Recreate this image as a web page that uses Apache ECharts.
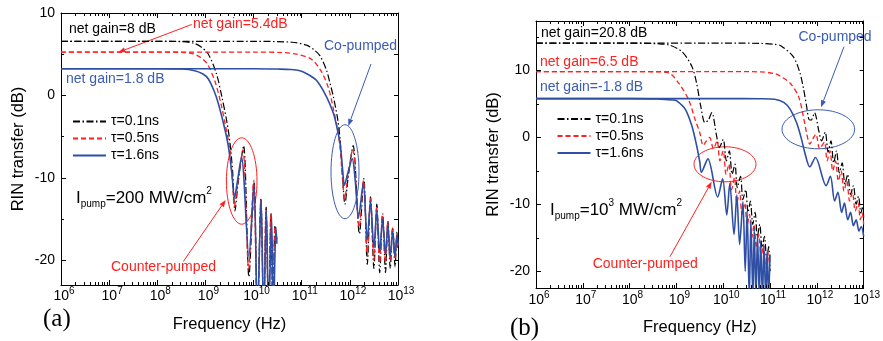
<!DOCTYPE html>
<html><head><meta charset="utf-8">
<script src="https://cdn.jsdelivr.net/npm/echarts@6/dist/echarts.min.js"></script>
<style>html,body{margin:0;padding:0;background:#fff}#c{width:883px;height:341px}</style>
</head><body><div id="c"></div>
<script>
// ---------- data ----------
const seriesNames = ['τ=0.1ns', 'τ=0.5ns', 'τ=1.6ns'];
const yTickLabels = [-20, -10, 0, 10];
const yMinorA = [-15, -5, 5];
const yMinorB = [-15, -5, 5, 15];
const yRightA = [-20, -15, -10, -5, 0, 5, 10];
const yRightB = [-20, -15, -10, -5, 0, 5, 10, 15];
const minorMultipliers = [2, 3, 4, 5, 6, 7, 8, 9];
const decadeExponents = [6, 7, 8, 9, 10, 11, 12];

// Panel (a), I_pump = 200 MW/cm^2 : [frequency Hz, RIN transfer dB]
const aCounterT01 = [[1e6,6.56],[1e8,6.56],[3.2e8,6.52],[5.6e8,6.35],[8.0e8,5.9],[1.15e9,5.0],[1.7e9,2.6],[2.2e9,-0.2],[2.75e9,-3.0],[3.2e9,-5.5],[3.7e9,-9.5],[4.1e9,-14],[4.8e9,-10.5],[6.2e9,-6.1],[8.0e9,-22],[1.02e10,-10.3],[1.2e10,-27],[1.42e10,-12.5],[1.62e10,-27],[1.82e10,-13.5],[2.05e10,-27],[2.29e10,-14.3],[2.52e10,-27],[2.79e10,-15.8],[3.05e10,-17.5]];
const aCounterT05 = [[1e6,5.26],[1e8,5.26],[3.2e8,5.22],[5.6e8,5.05],[8.0e8,4.6],[1.1e9,3.8],[1.6e9,1.6],[2.1e9,-1.0],[2.6e9,-3.6],[3.1e9,-6.0],[3.6e9,-10],[4.0e9,-13.5],[4.7e9,-10.5],[6.0e9,-6.6],[7.9e9,-21],[1.0e10,-10.5],[1.2e10,-27],[1.42e10,-12.7],[1.62e10,-27],[1.81e10,-13.8],[2.05e10,-27],[2.28e10,-14.5],[2.52e10,-27],[2.78e10,-16],[3.05e10,-17.5]];
const aCounterT16 = [[1e6,3.24],[1e8,3.24],[3.2e8,3.2],[6.0e8,3.0],[8.9e8,2.6],[1.15e9,2.0],[1.5e9,0.6],[1.86e9,-1.0],[2.57e9,-4.25],[3.0e9,-6.2],[3.55e9,-9.5],[4.0e9,-12.4],[4.6e9,-10.5],[5.6e9,-7.5],[8.0e9,-19.5],[1.02e10,-10.8],[1.2e10,-27],[1.43e10,-12.6],[1.62e10,-27],[1.85e10,-14],[2.05e10,-27],[2.37e10,-14.8],[2.58e10,-27],[2.92e10,-16],[3.05e10,-18]];
const aCoT01 = [[1e6,6.56],[1e10,6.56],[6.3e10,6.45],[1.26e11,6.1],[1.74e11,5.6],[2.4e11,4.8],[3.3e11,3.0],[3.9e11,1.4],[4.57e11,-0.2],[5.62e11,-3.0],[6.3e11,-5.5],[7.0e11,-9.5],[7.9e11,-13.2],[9.2e11,-10],[1.17e12,-6.1],[1.58e12,-16.8],[1.95e12,-10.1],[2.3e12,-20.5],[2.69e12,-12.3],[3.16e12,-21],[3.63e12,-13.2],[4.17e12,-21.5],[4.79e12,-14.3],[5.5e12,-21.5],[6.17e12,-15.2],[6.9e12,-21],[7.76e12,-16],[8.7e12,-20.8],[9.5e12,-16.6],[1e13,-18.5]];
const aCoT05 = [[1e6,5.26],[1e10,5.26],[4e10,5.2],[7.9e10,5.0],[1.58e11,4.4],[2.5e11,3.0],[3.55e11,1.0],[4.5e11,-1.5],[5.5e11,-4],[6.3e11,-6.5],[7.0e11,-10],[7.8e11,-12.5],[9.2e11,-9.5],[1.15e12,-6.5],[1.56e12,-16],[1.93e12,-10.3],[2.3e12,-19.5],[2.66e12,-12.5],[3.16e12,-20],[3.6e12,-13.5],[4.17e12,-20.3],[4.75e12,-14.5],[5.5e12,-20.3],[6.1e12,-15.3],[6.9e12,-20],[7.7e12,-16],[8.7e12,-19.8],[9.5e12,-16.8],[1e13,-18.3]];
const aCoT16 = [[1e6,3.24],[1e10,3.24],[3.16e10,3.2],[6e10,3.15],[9.2e10,3.0],[1.3e11,2.6],[2.04e11,1.8],[3.3e11,-0.2],[4.57e11,-2.2],[5.37e11,-3.85],[6.3e11,-5.9],[7.1e11,-9.1],[7.7e11,-10.9],[9.0e11,-9.5],[1.12e12,-7.7],[1.3e12,-10.5],[1.51e12,-14.8],[1.9e12,-10.7],[2.3e12,-17.5],[2.69e12,-12.8],[3.16e12,-18.5],[3.63e12,-14],[4.17e12,-19],[4.79e12,-15],[5.5e12,-19.3],[6.17e12,-15.8],[6.9e12,-19.5],[7.76e12,-16.5],[8.7e12,-19.5],[9.55e12,-17],[1e13,-18]];

// Panel (b), I_pump = 10^3 MW/cm^2
const bCounterT01 = [[1e6,14.1],[1e8,14.1],[4e8,14.0],[7.1e8,13.8],[1.32e9,12.8],[2.14e9,10.6],[2.7e9,8.1],[3.3e9,4.7],[4.07e9,2.2],[4.8e9,2.6],[5.7e9,3.7],[7.1e9,0.5],[8.3e9,-1.5],[1.0e10,-0.3],[1.17e10,-3.5],[1.35e10,-2.0],[1.55e10,-5.5],[1.78e10,-4.0],[2.0e10,-7.5],[2.34e10,-5.8],[2.63e10,-9.3],[3.02e10,-7.8],[3.39e10,-11.2],[3.8e10,-9.5],[4.27e10,-13],[4.79e10,-11.2],[5.37e10,-14.8],[6.03e10,-13],[6.76e10,-16.5],[7.59e10,-14.8],[8.51e10,-18.5],[9.33e10,-16.3],[1.0e11,-20]];
const bCounterT05 = [[1e6,9.84],[1e8,9.84],[4e8,9.8],[7.1e8,9.6],[1.12e9,8.1],[1.82e9,5.65],[2.5e9,2.7],[3.16e9,0.7],[3.72e9,-1.2],[4.3e9,-0.6],[5.13e9,0],[6.17e9,-1.7],[7.4e9,-0.5],[8.5e9,-3.5],[1.0e10,-2.0],[1.15e10,-5.5],[1.32e10,-4.0],[1.51e10,-7.8],[1.74e10,-6.0],[1.95e10,-9.8],[2.24e10,-8.0],[2.51e10,-11.5],[2.88e10,-9.8],[3.24e10,-13.2],[3.63e10,-11.5],[4.07e10,-15],[4.57e10,-13],[5.13e10,-16.5],[5.75e10,-14.5],[6.46e10,-18],[7.24e10,-16],[8.13e10,-19.5],[8.91e10,-17],[9.77e10,-19]];
const bCounterT16 = [[1e6,5.8],[1e8,5.8],[4e8,5.75],[8.3e8,5.6],[1.0e9,5.5],[1.55e9,4.2],[2.14e9,1.7],[2.7e9,-1.2],[3.16e9,-3.7],[3.4e9,-5.2],[4.7e9,-3.2],[7.6e9,-8.9],[9.7e9,-6.2],[1.19e10,-11.6],[1.38e10,-6.9],[1.7e10,-14.5],[1.95e10,-8.6],[2.24e10,-16],[2.63e10,-9.6],[2.95e10,-20],[3.24e10,-11],[3.6e10,-24],[3.9e10,-12.3],[4.3e10,-24],[4.6e10,-13.5],[5.0e10,-24],[5.4e10,-14.5],[5.9e10,-24],[6.3e10,-15.5],[6.9e10,-24],[7.4e10,-16.2],[8.1e10,-24],[8.7e10,-17],[9.3e10,-24],[1e11,-17.5]];
const bCoT01 = [[1e6,14.1],[1e10,14.1],[6.3e10,14.05],[1.3e11,13.9],[1.7e11,13.7],[3.16e11,12.05],[4.37e11,9.6],[5.25e11,7.1],[6.03e11,4.7],[6.76e11,2.7],[7.6e11,2.6],[8.9e11,3.7],[1.1e12,1.0],[1.26e12,-0.5],[1.51e12,0.8],[1.74e12,-2.2],[2.0e12,-0.5],[2.29e12,-3.8],[2.63e12,-2.0],[3.02e12,-5.3],[3.47e12,-3.8],[3.98e12,-7.0],[4.57e12,-5.5],[5.25e12,-8.5],[6.03e12,-7.2],[6.92e12,-10.0],[7.76e12,-8.8],[8.71e12,-11.3],[9.55e12,-10.3],[1e13,-12]];
const bCoT05 = [[1e6,9.84],[1e10,9.84],[6.3e10,9.8],[1.3e11,9.5],[1.7e11,9.1],[2.7e11,8.1],[4.07e11,6.1],[5.13e11,3.2],[6.03e11,0.7],[7.08e11,-1.0],[8.1e11,-0.3],[9.55e11,0.5],[1.15e12,-1.7],[1.45e12,-0.7],[1.66e12,-3.5],[1.91e12,-2.0],[2.19e12,-5.0],[2.51e12,-3.5],[2.88e12,-6.5],[3.31e12,-5.0],[3.8e12,-8.0],[4.37e12,-6.5],[5.01e12,-9.5],[5.75e12,-8.2],[6.61e12,-11.0],[7.59e12,-9.8],[8.51e12,-12.3],[9.33e12,-11.3],[1e13,-13]];
const bCoT16 = [[1e6,5.8],[1e10,5.8],[6.3e10,5.78],[1.26e11,5.7],[2.0e11,5.2],[2.7e11,4.2],[3.7e11,2.2],[4.7e11,-0.25],[5.5e11,-2.2],[7.08e11,-4.4],[9.33e11,-3.0],[1.58e12,-7.2],[1.95e12,-5.8],[2.4e12,-9.5],[2.82e12,-8.2],[3.39e12,-11.2],[3.89e12,-9.8],[4.57e12,-12.3],[5.25e12,-11.2],[6.03e12,-13.2],[6.92e12,-12.3],[7.94e12,-14],[8.91e12,-13.3],[1e13,-14.8]];

// ---------- styling ----------
const FONT = '"Liberation Sans", Arial, sans-serif';
const BLACK = '#000000', RED = '#ff2020', BLUE = '#2f4fa5', BLUE_T = '#3a5cb3';
const styles = [
  { color: BLACK, lineStyle: { color: BLACK, width: 1.2, type: [7, 2.5, 1.5, 2.5] } },
  { color: RED, lineStyle: { color: RED, width: 1.3, type: [5, 3] } },
  { color: BLUE, lineStyle: { color: BLUE, width: 1.6, type: 'solid' } }
];

function lineSeries(i, data, xi, yi) {
  return {
    type: 'line', name: seriesNames[i], data: data, xAxisIndex: xi, yAxisIndex: yi,
    symbol: 'none', showSymbol: false, smooth: 0.3, clip: true, silent: true,
    color: styles[i].color, lineStyle: styles[i].lineStyle, z: 3 + i
  };
}

const minorTickVals = [];
decadeExponents.forEach(e => minorMultipliers.forEach(m => minorTickVals.push(m * Math.pow(10, e))));

function minorTickSeries(xi, yi, yMin, yMax) {
  return {
    type: 'custom', xAxisIndex: xi, yAxisIndex: yi, silent: true, z: 10,
    data: minorTickVals.map(v => [v, yMin]),
    renderItem: function (params, api) {
      const x = api.value(0);
      const pb = api.coord([x, yMin]);
      const pt = api.coord([x, yMax]);
      const px = Math.round(pb[0]) + 0.5;
      return { type: 'group', children: [
        { type: 'line', shape: { x1: px, y1: pb[1], x2: px, y2: pb[1] - 3 }, style: { stroke: '#000', lineWidth: 1 } },
        { type: 'line', shape: { x1: px, y1: pt[1], x2: px, y2: pt[1] + 3 }, style: { stroke: '#000', lineWidth: 1 } }
      ]};
    }
  };
}

function xAxisCfg(grid, pos, withLabels, margin) {
  return {
    type: 'log', logBase: 10, min: 1e6, max: 1e13, gridIndex: grid, position: pos,
    splitLine: { show: false },
    axisLine: { show: true, onZero: false, lineStyle: { color: '#000', width: 1 } },
    axisTick: { show: true, inside: true, length: 5, lineStyle: { color: '#000' } },
    axisLabel: {
      show: withLabels, margin: margin, color: '#000', fontFamily: FONT, fontSize: 14, lineHeight: 20,
      padding: [0, 0, 0, 6],
      formatter: function (v) { return '10{s|' + Math.round(Math.log10(v)) + '}'; },
      rich: { s: { fontSize: 10, lineHeight: 10, verticalAlign: 'top', fontFamily: FONT, color: '#000' } }
    },
    name: withLabels ? 'Frequency (Hz)' : '', nameLocation: 'middle', nameGap: 31,
    nameTextStyle: { fontFamily: FONT, fontSize: 16.5, color: '#000' }
  };
}

function yAxisCfg(grid, pos, min, max, tickVals, tickLen, labels, line, name) {
  return {
    type: 'value', gridIndex: grid, position: pos, min: min, max: max,
    splitLine: { show: false },
    axisLine: { show: line, lineStyle: { color: '#000', width: 1 } },
    axisTick: { show: true, inside: true, length: tickLen, customValues: tickVals, lineStyle: { color: '#000' } },
    axisLabel: { show: labels, customValues: labels ? tickVals : undefined, margin: 6, color: '#000', fontFamily: FONT, fontSize: 14 },
    name: name || '', nameLocation: 'middle', nameGap: 34, nameRotate: 90,
    nameTextStyle: { fontFamily: FONT, fontSize: 16.5, color: '#000' }
  };
}

function arrow(x1, y1, x2, y2, color) {
  const ang = Math.atan2(y2 - y1, x2 - x1), L = 7, W = 2.6;
  const bx = x2 - L * Math.cos(ang), by = y2 - L * Math.sin(ang);
  const ox = -Math.sin(ang) * W, oy = Math.cos(ang) * W;
  return [
    { type: 'line', silent: true, shape: { x1: x1, y1: y1, x2: bx, y2: by }, style: { stroke: color, lineWidth: 1 } },
    { type: 'polygon', silent: true, shape: { points: [[x2, y2], [bx + ox, by + oy], [bx - ox, by - oy]] }, style: { fill: color } }
  ];
}
function txt(x, y, text, color, size, extra) {
  return Object.assign({ type: 'text', x: x, y: y, silent: true, style: Object.assign({
    text: text, fill: color, fontSize: size, fontFamily: FONT, align: 'left', verticalAlign: 'middle',
    textAlign: 'left', textVerticalAlign: 'middle' }, extra || {}) });
}
function ell(cx, cy, rx, ry, color) {
  return { type: 'ellipse', silent: true, shape: { cx: cx, cy: cy, rx: rx, ry: ry }, style: { fill: 'none', stroke: color, lineWidth: 1 } };
}
const pumpRich = {
  m: { fontSize: 17, lineHeight: 23, fontFamily: FONT, fill: '#000', color: '#000' },
  b: { fontSize: 10, lineHeight: 3, verticalAlign: 'bottom', fontFamily: FONT, fill: '#000', color: '#000' },
  t: { fontSize: 10, lineHeight: 10, verticalAlign: 'top', fontFamily: FONT, fill: '#000', color: '#000' }
};

const graphics = [].concat(
  [txt(69, 29.5, 'net gain=8 dB', '#000', 14),
   txt(193, 24.5, 'net gain=5.4dB', RED, 14),
   txt(66, 79.5, 'net gain=1.8 dB', BLUE_T, 14),
   txt(324, 46, 'Co-pumped', BLUE_T, 14),
   txt(111, 267, 'Counter-pumped', RED, 14),
   txt(76, 198, '{m|I}{b|pump}{m|=200 MW/cm}{t|2}', '#000', 17, { rich: pumpRich }),
   txt(43, 319, '(a)', '#000', 25, { fontFamily: '"Liberation Serif", "Times New Roman", serif' }),
   ell(345, 171.7, 14, 47, BLUE_T),
   ell(241.7, 181, 15.3, 43.2, RED)],
  arrow(191.7, 24.5, 118.3, 52.3, RED),
  arrow(371, 64, 348.3, 126, BLUE_T),
  arrow(183.3, 261.5, 225.7, 200, RED),
  [txt(541, 33.5, 'net gain=20.8 dB', '#000', 14),
   txt(540, 61.7, 'net gain=6.5 dB', RED, 14),
   txt(540, 87.5, 'net gain=-1.8 dB', BLUE_T, 14),
   txt(798.5, 37.5, 'Co-pumped', BLUE_T, 14),
   txt(592.7, 264, 'Counter-pumped', RED, 14),
   txt(550, 210, '{m|I}{b|pump}{m|=10}{t|3}{m| MW/cm}{t|2}', '#000', 17, { rich: pumpRich }),
   txt(510, 328, '(b)', '#000', 25, { fontFamily: '"Liberation Serif", "Times New Roman", serif' }),
   ell(818.3, 129.3, 36.3, 19.5, BLUE_T),
   ell(725, 164.3, 31, 17.5, RED)],
  arrow(844, 46.7, 821, 107.3, BLUE_T),
  arrow(670, 256.7, 711.7, 181.7, RED)
);

const legendBase = {
  data: seriesNames, orient: 'vertical', itemWidth: 33, itemHeight: 14, itemGap: 3,
  selectedMode: false, padding: 0,
  itemStyle: { opacity: 0, borderWidth: 0 },
  textStyle: { fontFamily: FONT, fontSize: 14, color: '#000' }
};

const chart = echarts.init(document.getElementById('c'), null, { renderer: 'canvas' });
chart.setOption({
  animation: false,
  backgroundColor: '#fff',
  grid: [
    { left: 61, top: 13, right: 485, bottom: 56 },
    { left: 536, top: 21, right: 9, bottom: 50 }
  ],
  legend: [
    Object.assign({}, legendBase, { left: 72, top: 114.5 }),
    Object.assign({}, legendBase, { left: 556.5, top: 112 })
  ],
  xAxis: [
    xAxisCfg(0, 'bottom', true, 1),
    xAxisCfg(0, 'top', false, 1),
    xAxisCfg(1, 'bottom', true, 2),
    xAxisCfg(1, 'top', false, 1)
  ],
  yAxis: [
    yAxisCfg(0, 'left', -23, 10, yTickLabels, 5, true, true, 'RIN transfer (dB)'),
    yAxisCfg(0, 'left', -23, 10, yMinorA, 3, false, false),
    yAxisCfg(0, 'right', -23, 10, yRightA, 4, false, true),
    yAxisCfg(1, 'left', -22.5, 17.4, yTickLabels, 5, true, true, 'RIN transfer (dB)'),
    yAxisCfg(1, 'left', -22.5, 17.4, yMinorB, 3, false, false),
    yAxisCfg(1, 'right', -22.5, 17.4, yRightB, 4, false, true)
  ],
  series: [
    lineSeries(0, aCounterT01, 0, 0), lineSeries(1, aCounterT05, 0, 0), lineSeries(2, aCounterT16, 0, 0),
    lineSeries(0, aCoT01, 0, 0), lineSeries(1, aCoT05, 0, 0), lineSeries(2, aCoT16, 0, 0),
    lineSeries(0, bCounterT01, 2, 3), lineSeries(1, bCounterT05, 2, 3), lineSeries(2, bCounterT16, 2, 3),
    lineSeries(0, bCoT01, 2, 3), lineSeries(1, bCoT05, 2, 3), lineSeries(2, bCoT16, 2, 3),
    minorTickSeries(0, 0, -23, 10),
    minorTickSeries(2, 3, -22.5, 17.4)
  ],
  graphic: graphics
});
</script>
</body></html>
